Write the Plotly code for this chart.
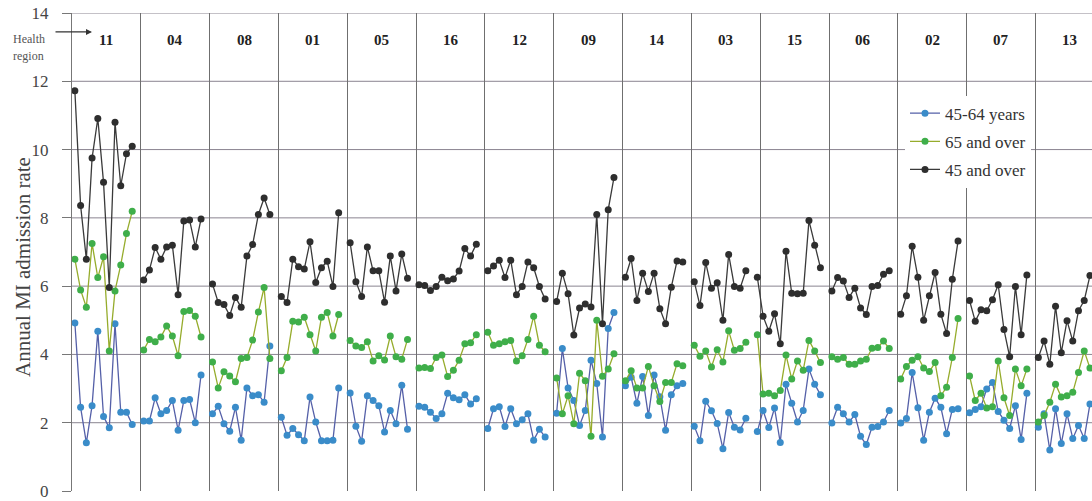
import plotly.graph_objects as go

regions = ["11", "04", "08", "01", "05", "16", "12", "09", "14", "03", "15", "06", "02", "07", "13"]

# Annual MI admission rate, 45-64 years
rate_45_64 = {
    "11": [4.92, 2.45, 1.41, 2.50, 4.68, 2.18, 1.85, 4.90, 2.31, 2.31, 1.95],
    "04": [2.05, 2.05, 2.73, 2.26, 2.36, 2.65, 1.78, 2.65, 2.68, 2.00, 3.40],
    "08": [2.26, 2.48, 1.97, 1.75, 2.45, 1.49, 3.02, 2.79, 2.82, 2.60, 4.25],
    "01": [2.16, 1.63, 1.83, 1.65, 1.47, 2.75, 2.02, 1.47, 1.47, 1.49, 3.02],
    "05": [2.87, 1.90, 1.46, 2.79, 2.65, 2.50, 1.73, 2.36, 1.97, 3.10, 1.81],
    "16": [2.48, 2.45, 2.31, 2.12, 2.26, 2.86, 2.73, 2.67, 2.82, 2.55, 2.70],
    "12": [1.83, 2.41, 2.47, 1.89, 2.41, 1.97, 2.09, 2.26, 1.49, 1.81, 1.58],
    "09": [2.28, 4.17, 3.02, 2.65, 1.92, 2.36, 3.83, 3.15, 1.58, 4.76, 5.23],
    "14": [3.08, 3.33, 2.57, 3.35, 2.21, 3.40, 2.76, 1.78, 2.82, 3.08, 3.15],
    "03": [1.90, 1.47, 2.63, 2.35, 1.98, 1.24, 2.30, 1.87, 1.79, 2.13],
    "15": [1.74, 2.36, 1.86, 2.43, 1.42, 3.13, 2.57, 2.02, 2.36, 3.57, 3.13, 2.82],
    "06": [1.99, 2.45, 2.26, 2.02, 2.24, 1.60, 1.36, 1.87, 1.89, 2.02, 2.36],
    "02": [1.99, 2.12, 3.47, 2.44, 1.49, 2.31, 2.72, 2.45, 1.68, 2.39, 2.41],
    "07": [2.29, 2.39, 2.47, 2.99, 3.18, 2.33, 2.07, 1.83, 2.50, 1.51, 2.86],
    "13": [1.87, 2.26, 1.20, 2.41, 1.39, 2.26, 1.54, 1.92, 1.54, 2.55],
}

# 65 and over
rate_65_over = {
    "11": [6.79, 5.89, 5.38, 7.25, 6.25, 6.86, 4.10, 5.86, 6.62, 7.54, 8.19],
    "04": [4.13, 4.44, 4.37, 4.51, 4.83, 4.54, 3.96, 5.26, 5.29, 5.12, 4.51],
    "08": [3.78, 3.02, 3.49, 3.37, 3.20, 3.88, 3.91, 4.42, 5.24, 5.96, 3.88],
    "01": [3.52, 3.91, 4.97, 4.95, 5.09, 4.58, 4.10, 5.09, 5.23, 4.54, 5.17],
    "05": [4.41, 4.25, 4.20, 4.37, 3.81, 3.96, 3.84, 4.54, 3.93, 3.86, 4.44],
    "16": [3.60, 3.62, 3.59, 3.91, 3.98, 3.35, 3.54, 3.83, 4.31, 4.34, 4.58],
    "12": [4.65, 4.27, 4.31, 4.37, 4.41, 3.81, 3.96, 4.44, 5.12, 4.27, 4.08],
    "09": [3.31, 2.26, 2.79, 1.97, 3.45, 3.23, 1.60, 5.00, 3.36, 3.57, 4.02],
    "14": [3.23, 3.52, 3.02, 3.02, 3.65, 3.08, 2.62, 3.18, 3.18, 3.73, 3.67],
    "03": [4.27, 3.95, 4.10, 3.63, 4.14, 3.78, 4.69, 4.12, 4.17, 4.36],
    "15": [4.58, 2.84, 2.86, 2.79, 2.94, 3.98, 3.28, 3.81, 3.54, 4.41, 4.10, 3.76],
    "06": [3.93, 3.86, 3.91, 3.71, 3.71, 3.81, 3.86, 4.18, 4.20, 4.39, 4.17],
    "02": [3.28, 3.65, 3.83, 3.93, 3.60, 3.50, 3.76, 2.79, 3.04, 3.91, 5.05],
    "07": [3.37, 2.65, 2.86, 2.43, 2.47, 3.81, 2.73, 2.21, 3.57, 3.08, 3.57],
    "13": [2.02, 2.21, 2.60, 3.13, 2.75, 2.79, 2.89, 3.47, 4.10, 3.60],
}

# 45 and over
rate_45_over = {
    "11": [11.72, 8.36, 6.79, 9.75, 10.91, 9.04, 5.96, 10.80, 8.94, 9.88, 10.10],
    "04": [6.18, 6.47, 7.13, 6.79, 7.15, 7.20, 5.75, 7.91, 7.94, 7.15, 7.97],
    "08": [6.06, 5.52, 5.46, 5.14, 5.67, 5.38, 6.88, 7.22, 8.10, 8.58, 8.10],
    "01": [5.70, 5.52, 6.79, 6.57, 6.50, 7.30, 6.11, 6.54, 6.73, 5.99, 8.15],
    "05": [7.27, 6.13, 5.70, 7.15, 6.45, 6.45, 5.53, 6.88, 5.86, 6.94, 6.23],
    "16": [6.04, 6.02, 5.87, 5.99, 6.26, 6.16, 6.21, 6.44, 7.10, 6.88, 7.23],
    "12": [6.45, 6.59, 6.76, 6.25, 6.76, 5.75, 5.99, 6.71, 6.54, 5.99, 5.62],
    "09": [5.55, 6.38, 5.78, 4.57, 5.36, 5.48, 5.39, 8.10, 4.90, 8.24, 9.18],
    "14": [6.26, 6.81, 5.58, 6.38, 5.84, 6.38, 5.34, 4.90, 5.97, 6.74, 6.71],
    "03": [6.13, 5.43, 6.69, 5.94, 6.10, 5.00, 6.93, 5.99, 5.94, 6.45],
    "15": [6.26, 5.12, 4.68, 5.19, 4.31, 7.02, 5.79, 5.78, 5.79, 7.92, 7.20, 6.54],
    "06": [5.86, 6.25, 6.15, 5.67, 5.94, 5.36, 5.17, 5.99, 6.02, 6.35, 6.45],
    "02": [5.18, 5.72, 7.17, 6.26, 5.00, 5.72, 6.40, 5.18, 4.61, 6.20, 7.32],
    "07": [5.58, 4.97, 5.31, 5.28, 5.60, 6.04, 4.73, 3.93, 5.99, 4.58, 6.33],
    "13": [3.91, 4.39, 3.71, 5.41, 4.05, 4.99, 4.39, 5.28, 5.58, 6.31],
}

series_names = ["45-64 years", "65 and over", "45 and over"]
y_ticks = [0, 2, 4, 6, 8, 10, 12, 14]
SLOTS = 12  # slots per region panel on the shared axis

FONT = "Liberation Serif"


def flatten(data):
    xs, ys = [], []
    k = 0
    for r in regions:
        for v in data[r]:
            xs.append(k + 0.5)
            ys.append(v)
            k += 1
        xs.append(k + 0.5)
        ys.append(None)
        k += 1
    return xs, ys


styles = [
    (rate_45_64, "#3a8cc9", "#5560a8"),
    (rate_65_over, "#3fae4a", "#96ac2c"),
    (rate_45_over, "#2e2e2e", "#3a3a3a"),
]

fig = go.Figure()
for name, (data, mcol, lcol) in zip(series_names, styles):
    xs, ys = flatten(data)
    fig.add_trace(go.Scatter(
        x=xs, y=ys, name=name, mode="lines+markers",
        line=dict(color=lcol, width=1.3),
        marker=dict(color=mcol, size=7),
        connectgaps=False, legendgroup=name,
    ))

W, H = 1092, 501
L, R, T, B = 72, 0, 13, 8
plot_w = W - L - R
px_per_slot = 5.735
x_max = plot_w / px_per_slot

shapes = []
for yv in y_ticks[1:]:
    shapes.append(dict(type="line", xref="paper", yref="y", x0=0, x1=1, y0=yv, y1=yv,
                       line=dict(color="#8a8490", width=1), layer="below"))

annotations = []
for i, r in enumerate(regions):
    annotations.append(dict(x=i * SLOTS + SLOTS / 2, y=13.22, xref="x", yref="y",
                            text=f"<b>{r}</b>", showarrow=False,
                            font=dict(family=FONT, size=15, color="#222")))

def px_x(p):
    return (p - L) / plot_w

def px_y(p):
    return (H - B - p) / (H - T - B)

annotations += [
    dict(x=px_x(28.5), y=px_y(39), xref="paper", yref="paper", text="Health",
         showarrow=False, font=dict(family=FONT, size=12, color="#555"),
         xanchor="center", yanchor="middle"),
    dict(x=px_x(28.5), y=px_y(56), xref="paper", yref="paper", text="region",
         showarrow=False, font=dict(family=FONT, size=12, color="#555"),
         xanchor="center", yanchor="middle"),
    dict(x=px_x(92), y=px_y(32), xref="paper", yref="paper", text="",
         showarrow=True, ax=-38, ay=0, arrowhead=2, arrowsize=1, arrowwidth=1.2,
         arrowcolor="#333"),
    dict(x=px_x(23), y=px_y(268), xref="paper", yref="paper", text="Annual MI admission rate",
         showarrow=False, textangle=-90, font=dict(family=FONT, size=21, color="#444"),
         xanchor="center", yanchor="middle"),
]

fig.update_layout(
    width=W, height=H,
    margin=dict(l=L, r=R, t=T, b=B),
    paper_bgcolor="white", plot_bgcolor="white",
    showlegend=True,
    legend=dict(x=px_x(905), y=px_y(96), xanchor="left", yanchor="top",
                bgcolor="white", borderwidth=0, tracegroupgap=3,
                font=dict(family=FONT, size=17, color="#333")),
    xaxis=dict(range=[0, x_max], tickvals=[SLOTS * i for i in range(1, len(regions))],
               showticklabels=False, ticks="", showgrid=True, gridcolor="#6f6f6f",
               gridwidth=1, zeroline=False, showline=False, fixedrange=True),
    yaxis=dict(range=[0, 14], tickvals=y_ticks, showgrid=False, zeroline=False,
               showline=True, linecolor="#777", linewidth=1,
               ticks="outside", ticklen=9, tickcolor="#777",
               ticklabelstandoff=10, ticklabeloverflow="allow",
               tickfont=dict(family=FONT, size=17, color="#444")),
    shapes=shapes,
    annotations=annotations,
    font=dict(family=FONT),
)

fig.write_html("out.html")
